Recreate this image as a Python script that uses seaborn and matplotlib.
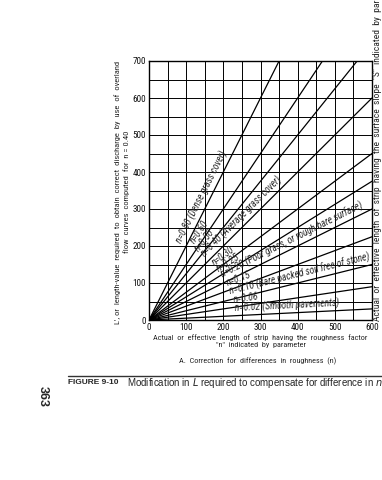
import numpy as np
import pandas as pd
import seaborn as sns
import matplotlib.pyplot as plt
from matplotlib.ticker import MultipleLocator

# roughness parameters and the L' value each line would reach at L = 600
n_values = ['0.80', '0.60', '0.50', '0.40', '0.30', '0.25', '0.20', '0.15', '0.10', '0.06', '0.02']
L_start = [0, 0, 0, 0, 0, 0, 0, 0, 0, 0, 0]
L_end = [600, 600, 600, 600, 600, 600, 600, 600, 600, 600, 600]
Lp_start = [0, 0, 0, 0, 0, 0, 0, 0, 0, 0, 0]
Lp_end = [1200, 900, 750, 600, 450, 375, 300, 225, 150, 90, 30]
line_labels = ['n=0.80 (Dense grass cover)', 'n=0.60', 'n=0.50',
               'n=0.40 (Average grass cover)', 'n=0.30', 'n=0.25',
               'n=0.20 (Poor grass, or rough bare surface)', 'n=0.15',
               'n=0.10 (Bare packed soil free of stone)', 'n=0.06',
               'n=0.02 (Smooth pavements)']
label_at = [100, 133, 142, 160, 183, 194, 205, 215, 222, 230, 232]

rows = []
for n, x0, x1, y0, y1 in zip(n_values, L_start, L_end, Lp_start, Lp_end):
    rows.append({'n': n, 'L': x0, 'Lp': y0})
    rows.append({'n': n, 'L': x1, 'Lp': y1})
df = pd.DataFrame(rows)

sns.set_style('white')
plt.rcParams['font.family'] = ['Roboto Condensed', 'DejaVu Sans']

fig = plt.figure(figsize=(3.82, 4.8), dpi=100)
ax = fig.add_axes([149 / 382, 1 - 320 / 480, 223 / 382, 259 / 480])

sns.lineplot(data=df, x='L', y='Lp', hue='n', palette=['black'] * len(n_values),
             legend=False, linewidth=0.9, ax=ax, estimator=None, sort=False)

ax.set_xlim(0, 600)
ax.set_ylim(0, 700)
ax.xaxis.set_major_locator(MultipleLocator(100))
ax.yaxis.set_major_locator(MultipleLocator(100))
ax.xaxis.set_minor_locator(MultipleLocator(50))
ax.yaxis.set_minor_locator(MultipleLocator(50))
ax.grid(True, which='both', color='black', linewidth=0.7)
ax.tick_params(which='both', length=0, labelsize=6.6, pad=2, colors='#111111')
for s in ax.spines.values():
    s.set_color('black')
    s.set_linewidth(1.0)

ax.set_xlabel('Actual  or  effective  length  of  strip  having  the  roughness  factor\n'
              '"n"  indicated  by  parameter', fontsize=5.9, labelpad=1.5, linespacing=1.3)
ax.set_ylabel('')
fig.text(122 / 382, 1 - 192 / 480,
         "L′, or  length-value  required  to  obtain  correct  discharge  by  use  of  overland\n"
         "flow  curves  computed  for  n = 0.40", fontsize=6.1, rotation=90,
         ha='center', va='center', multialignment='center', linespacing=1.3)

# labels along the lines
fig.canvas.draw()
for i, lab in enumerate(label_at):
    slope = (Lp_end[i] - Lp_start[i]) / (L_end[i] - L_start[i])
    p0 = ax.transData.transform((0, 0))
    p1 = ax.transData.transform((100, 100 * slope))
    ang = np.degrees(np.arctan2(p1[1] - p0[1], p1[0] - p0[0]))
    off = 1.5
    dx, dy = -off * np.sin(np.radians(ang)), off * np.cos(np.radians(ang))
    ax.annotate(line_labels[i], xy=(lab, lab * slope), xytext=(dx, dy),
                textcoords='offset points', rotation=ang, rotation_mode='anchor',
                ha='left', va='bottom', fontsize=6.9, fontstyle='italic')

fig.text(258 / 382, 1 - 361 / 480, 'A.  Correction  for  differences  in  roughness  (n)',
         fontsize=5.9, ha='center', va='center')

fig.text(378 / 382, 1 - 321 / 480,
         'Actual  or  effective  length  of  strip  having  the  surface  slope  "S"  indicated  by  parameter',
         fontsize=6.8, rotation=90, rotation_mode='anchor', ha='left', va='center')

fig.add_artist(plt.Line2D([68 / 382, 1.0], [1 - 376 / 480, 1 - 376 / 480],
                          color='#333333', linewidth=1.0))
fig.text(68 / 382, 1 - 383 / 480, 'FIGURE 9-10', fontsize=6.0, fontweight='bold',
         ha='left', va='center', family=['Liberation Sans', 'DejaVu Sans'])
fig.text(127 / 382, 1 - 383 / 480,
         r'Modification in $\mathit{L}$ required to compensate for difference in $n$',
         fontsize=7.0, ha='left', va='center', family=['Liberation Sans', 'DejaVu Sans'])
fig.text(43 / 382, 1 - 397 / 480, '363', fontsize=9, fontweight='bold', rotation=-90,
         ha='center', va='center', family=['Liberation Sans', 'DejaVu Sans'])

fig.savefig('out.png', dpi=100, facecolor='white')
